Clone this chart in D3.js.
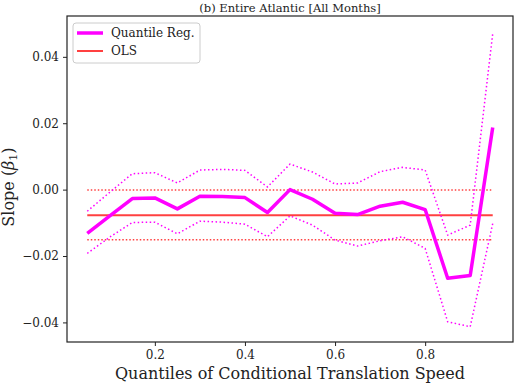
<!DOCTYPE html>
<html>
<head>
<meta charset="utf-8">
<script src="https://cdn.jsdelivr.net/npm/d3@7"></script>
<style>
  body { margin: 0; background: #fff; }
  svg text { font-family: "DejaVu Serif", serif !important; fill: #222; }
</style>
</head>
<body>
<div id="chart"></div>
<script>
//Datos
const quantiles = [0.05, 0.10, 0.15, 0.20, 0.25, 0.30, 0.35, 0.40, 0.45, 0.50,
                   0.55, 0.60, 0.65, 0.70, 0.75, 0.80, 0.85, 0.90, 0.95];
const slopeQR = [-0.0132, -0.0079, -0.0027, -0.0025, -0.0058, -0.0020, -0.0021, -0.0024, -0.0069, 0.0000,
                 -0.0029, -0.0071, -0.0075, -0.0050, -0.0038, -0.0060, -0.0267, -0.0259, 0.0187];
const upperQR = [-0.0065, -0.0008, 0.0048, 0.0051, 0.0020, 0.0059, 0.0061, 0.0058, 0.0008, 0.0077,
                 0.0053, 0.0017, 0.0020, 0.0054, 0.0067, 0.0059, -0.0137, -0.0107, 0.0470];
const lowerQR = [-0.0192, -0.0143, -0.0099, -0.0098, -0.0133, -0.0095, -0.0098, -0.0104, -0.0142, -0.0079,
                 -0.0107, -0.0152, -0.0170, -0.0154, -0.0142, -0.0177, -0.0398, -0.0413, -0.0102];
const olsSlope = -0.0077, olsUpper = -0.00015, olsLower = -0.0151;
const xTicks = [0.2, 0.4, 0.6, 0.8];
const yTicks = [-0.04, -0.02, 0.00, 0.02, 0.04];

const COLOR_QR = '#ff00ff', COLOR_OLS = '#ff4040';

let margin = {top: 16, right: 1, bottom: 41, left: 67},
    width = 514 - margin.left - margin.right,
    height = 383 - margin.top - margin.bottom;

let svg = d3.select('#chart').append('svg')
    .attr('width', 514).attr('height', 383)
  .append('g')
    .attr('transform', 'translate(' + margin.left + ',' + margin.top + ')');

let x = d3.scaleLinear().domain([0.005, 0.995]).range([0, width]);
let y = d3.scaleLinear().domain([-0.0459, 0.0523]).range([height, 0]);

//Ejes
let xAxis = svg.append('g')
    .attr('transform', 'translate(0,' + height + ')')
    .call(d3.axisBottom(x).tickValues(xTicks).tickFormat(d3.format('.1f')).tickSizeOuter(0).tickSize(4).tickPadding(4));
let yAxis = svg.append('g')
    .call(d3.axisLeft(y).tickValues(yTicks).tickFormat(d => d3.format('.2f')(d).replace('-', '\u2212')).tickSizeOuter(0).tickSize(4).tickPadding(4));
[xAxis, yAxis].forEach(a => {
  a.attr('font-family', null);
  a.select('.domain').remove();
  a.selectAll('text').style('font-size', '12px');
  a.selectAll('line').attr('stroke', '#222');
});

svg.append('rect')
    .attr('width', width).attr('height', height)
    .attr('fill', 'none').attr('stroke', '#222').attr('stroke-width', 1.2);

//OLS
[[olsSlope, null], [olsUpper, '1.5,2'], [olsLower, '1.5,2']].forEach(([v, dash]) => {
  svg.append('line')
      .attr('x1', x(quantiles[0])).attr('x2', x(quantiles[quantiles.length - 1]))
      .attr('y1', y(v)).attr('y2', y(v))
      .attr('stroke', COLOR_OLS)
      .attr('stroke-width', dash ? 1.5 : 2)
      .attr('stroke-dasharray', dash);
});

//Regresión cuantílica
let line = d3.line().x((d, i) => x(quantiles[i])).y(d => y(d));
[upperQR, lowerQR].forEach(s => {
  svg.append('path').datum(s)
      .attr('d', line).attr('fill', 'none')
      .attr('stroke', COLOR_QR).attr('stroke-width', 1.5)
      .attr('stroke-dasharray', '1.5,2.5');
});
svg.append('path').datum(slopeQR)
    .attr('d', line).attr('fill', 'none')
    .attr('stroke', COLOR_QR).attr('stroke-width', 3.5)
    .attr('stroke-linejoin', 'round');

//Títulos
svg.append('text')
    .attr('x', width / 2).attr('y', -4)
    .attr('text-anchor', 'middle').style('font-size', '11.5px')
    .text('(b) Entire Atlantic [All Months]');
svg.append('text')
    .attr('x', width / 2).attr('y', height + 37)
    .attr('text-anchor', 'middle').style('font-size', '16px')
    .text('Quantiles of Conditional Translation Speed');
let yl = svg.append('text')
    .attr('transform', 'translate(' + (-53) + ',' + (height / 2 + 8) + ') rotate(-90)')
    .attr('text-anchor', 'middle').style('font-size', '16px');
yl.append('tspan').text('Slope (');
yl.append('tspan').style('font-style', 'italic').text('\u03b2');
yl.append('tspan').attr('dy', 3).style('font-size', '11px').text('1');
yl.append('tspan').attr('dy', -3).text(')');

//Leyenda
let legend = svg.append('g').attr('transform', 'translate(6,7)');
legend.append('rect')
    .attr('width', 127).attr('height', 40).attr('rx', 3)
    .attr('fill', '#fff').attr('fill-opacity', 0.8)
    .attr('stroke', '#ccc');
[['Quantile Reg.', COLOR_QR, 3.5], ['OLS', COLOR_OLS, 2]].forEach(([label, c, w], i) => {
  let yy = 10 + i * 18;
  legend.append('line')
      .attr('x1', 4).attr('x2', 30).attr('y1', yy).attr('y2', yy)
      .attr('stroke', c).attr('stroke-width', w);
  legend.append('text')
      .attr('x', 38).attr('y', yy + 4)
      .style('font-size', '12px').text(label);
});
</script>
</body>
</html>
